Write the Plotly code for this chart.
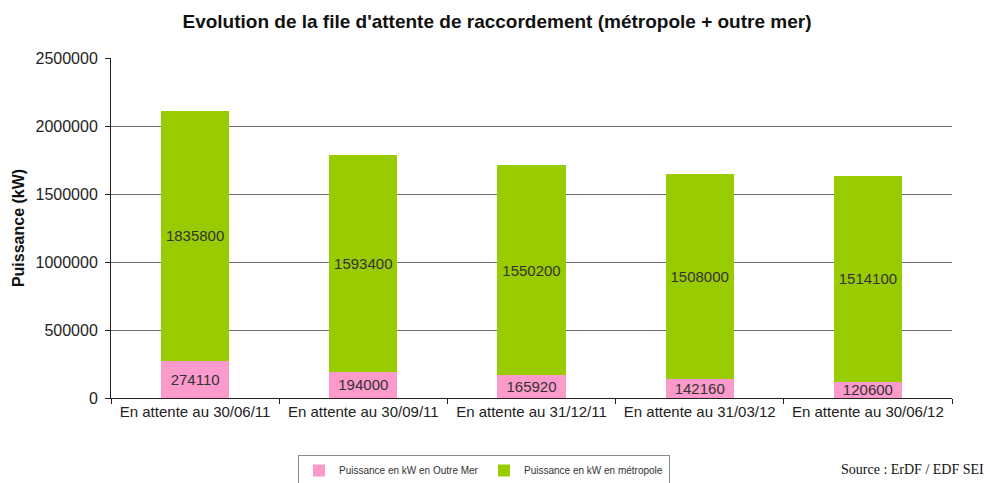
import plotly.graph_objects as go

categories = ["En attente au 30/06/11", "En attente au 30/09/11", "En attente au 31/12/11",
              "En attente au 31/03/12", "En attente au 30/06/12"]
outre_mer = [274110, 194000, 165920, 142160, 120600]
metropole = [1835800, 1593400, 1550200, 1508000, 1514100]
y_ticks = [0, 500000, 1000000, 1500000, 2000000, 2500000]

label_font = dict(family="Arial", size=15, color="#333333")

fig = go.Figure()
fig.add_trace(go.Bar(
    x=categories, y=outre_mer, name="Puissance en kW en Outre Mer",
    marker=dict(color="#FB9ACB", line=dict(width=0)),
    text=[str(v) for v in outre_mer], textposition="inside", insidetextanchor="middle",
    textangle=0, constraintext="none", textfont=label_font,
))
fig.add_trace(go.Bar(
    x=categories, y=metropole, name="Puissance en kW en métropole",
    marker=dict(color="#99CC00", line=dict(width=0)),
    text=[str(v) for v in metropole], textposition="inside", insidetextanchor="middle",
    textangle=0, constraintext="none", textfont=label_font,
))

fig.update_layout(
    barmode="stack", bargap=0.595,
    width=990, height=483,
    margin=dict(l=111, r=38, t=58, b=85, autoexpand=False),
    paper_bgcolor="white", plot_bgcolor="white",
    font=dict(family="Arial", size=15, color="#222222"),
    title=dict(text="<b>Evolution de la file d'attente de raccordement (métropole + outre mer)</b>",
               x=0.502, xanchor="center", xref="container",
               y=1 - 21 / 483, yanchor="middle", yref="container",
               font=dict(family="Arial", size=19, color="#111111")),
    showlegend=True,
    legend=dict(orientation="h", xref="container", yref="container",
                x=298 / 990, xanchor="left", y=1 - 455 / 483, yanchor="top",
                bordercolor="#8a8a8a", borderwidth=1, bgcolor="white",
                font=dict(family="Arial", size=10, color="#333333"),
                itemwidth=30, entrywidth=140, traceorder="normal", tracegroupgap=0),
    annotations=[dict(text="Source : ErDF / EDF SEI", xref="paper", yref="paper",
                      x=(986 - 111) / 841, y=(398 - 470) / 340, xanchor="right", yanchor="middle",
                      showarrow=False,
                      font=dict(family="Liberation Serif, Times New Roman", size=14, color="#111111"))],
)
fig.update_xaxes(
    showline=True, linecolor="#222222", linewidth=1,
    ticks="outside", tickson="boundaries", ticklen=5, tickcolor="#222222",
    tickfont=dict(family="Arial", size=15, color="#222222"),
    showgrid=False, automargin=False,
)
fig.update_yaxes(
    range=[0, 2500000], tickvals=y_ticks, ticktext=[str(v) for v in y_ticks],
    showline=True, linecolor="#222222", linewidth=1,
    ticks="outside", ticklen=5, tickcolor="#222222", ticklabelstandoff=4,
    showgrid=True, gridcolor="#6e6e6e", gridwidth=1,
    zeroline=False, automargin=False,
    tickfont=dict(family="Arial", size=16, color="#222222"),
    title=dict(text="<b>Puissance (kW)</b>", font=dict(family="Arial", size=16, color="#111111"),
               standoff=6),
)

fig.write_html("out.html", config={"displayModeBar": False},
               post_script="document.body.style.margin='0';document.body.style.padding='0';")
